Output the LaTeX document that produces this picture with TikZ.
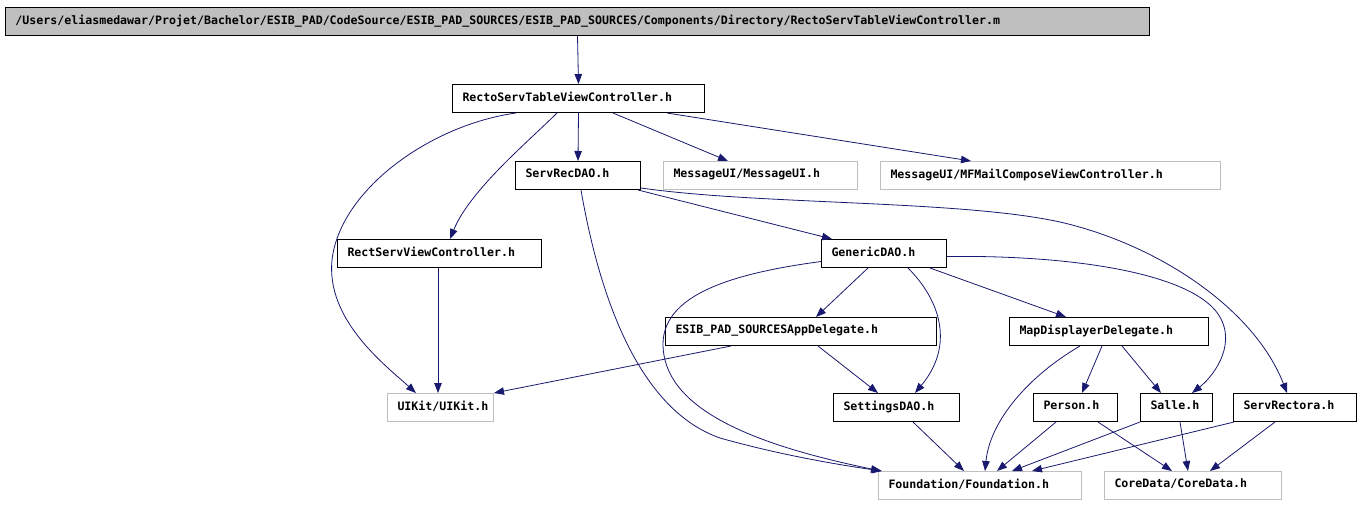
\documentclass[tikz,border=0pt]{standalone}
\usepackage{fontspec}
\setmonofont{DejaVu Sans Mono}
\usetikzlibrary{arrows.meta}
\definecolor{edgeblue}{HTML}{191970}
\definecolor{extgray}{HTML}{BFBFBF}
\newcommand\lbltxt[2]{\makebox[#1pt][l]{\rule[-4.4pt]{0pt}{13pt}#2}}
\begin{document}
\begin{tikzpicture}[x=1pt,y=-1pt,
  nbox/.style={draw=black, line width=1pt, fill=white, inner xsep=10pt, inner ysep=0pt,
    minimum height=28pt, font=\ttfamily\bfseries\fontsize{11.6}{13}\selectfont, anchor=north west},
  ext/.style={nbox, draw=extgray},
  rootbox/.style={nbox, fill=extgray},
  edge/.style={draw=edgeblue, line width=0.8pt, -{Triangle[length=10pt,width=7.5pt]}}]
\useasboundingbox (0,0) rectangle (1361,504);
\fill[white] (0,0) rectangle (1361,504);

\node[rootbox] (root) at (5,7) {\lbltxt{1124}{/Users/eliasmedawar/Projet/Bachelor/ESIB\_PAD/CodeSource/ESIB\_PAD\_SOURCES/ESIB\_PAD\_SOURCES/Components/Directory/RectoServTableViewController.m}};
\node[nbox] (rstvc) at (452,84) {\lbltxt{232}{RectoServTableViewController.h}};
\node[nbox] (srd) at (515,161) {\lbltxt{105}{ServRecDAO.h}};
\node[ext] (mui) at (663,161) {\lbltxt{174}{MessageUI/MessageUI.h}};
\node[ext] (mfm) at (880,161) {\lbltxt{320}{MessageUI/MFMailComposeViewController.h}};
\node[nbox] (rsvc) at (337,239) {\lbltxt{184}{RectServViewController.h}};
\node[nbox] (gdao) at (821,239) {\lbltxt{105}{GenericDAO.h}};
\node[nbox] (esib) at (665,317) {\lbltxt{251}{ESIB\_PAD\_SOURCESAppDelegate.h}};
\node[nbox] (map) at (1009,317) {\lbltxt{179}{MapDisplayerDelegate.h}};
\node[ext] (uikit) at (387,393) {\lbltxt{86}{UIKit/UIKit.h}};
\node[nbox] (sdao) at (833,393) {\lbltxt{106}{SettingsDAO.h}};
\node[nbox] (person) at (1033,393) {\lbltxt{64}{Person.h}};
\node[nbox] (salle) at (1140,393) {\lbltxt{52}{Salle.h}};
\node[nbox] (srect) at (1233,393) {\lbltxt{103}{ServRectora.h}};
\node[ext] (found) at (878,471) {\lbltxt{183}{Foundation/Foundation.h}};
\node[ext] (core) at (1104,471) {\lbltxt{157}{CoreData/CoreData.h}};

% edges
\draw[edge] (root.south) -- (rstvc.north);
\draw[edge] (rstvc.south) -- (srd.north);
\draw[edge] ([xshift=161pt]rstvc.south west) -- ([xshift=65pt]mui.north west);
\draw[edge] ([xshift=215pt]rstvc.south west) -- ([xshift=91pt]mfm.north west);
\draw[edge] ([xshift=105pt]rstvc.south west) .. controls (530,140) and (470,190) .. ([xshift=113pt]rsvc.north west);
\draw[edge] ([xshift=64pt]rstvc.south west) .. controls (430,125) and (340,190) .. (332,260)
   .. controls (326,320) and (385,365) .. ([xshift=29pt]uikit.north west);
\draw[edge] ([xshift=101pt]rsvc.south west) -- ([xshift=51pt]uikit.north west);
\draw[edge] ([xshift=123pt]srd.south west) -- ([xshift=11pt]gdao.north west);
\draw[edge] ([xshift=66pt]srd.south west) .. controls (600,300) and (640,410) .. (720,438)
   .. controls (780,455) and (840,465) .. ([xshift=4pt]found.north west);
\draw[edge] ([yshift=2pt]srd.south east) .. controls (760,205) and (960,200) .. (1060,222)
   .. controls (1160,245) and (1255,310) .. ([xshift=54pt]srect.north west);
\draw[edge] ([xshift=47pt]gdao.south west) -- ([xshift=151pt]esib.north west);
\draw[edge] ([xshift=87pt]gdao.south west) .. controls (940,300) and (955,345) .. ([xshift=82pt]sdao.north west);
\draw[edge] ([xshift=109pt]gdao.south west) -- ([xshift=57pt]map.north west);
\draw[edge] ([yshift=-3pt]gdao.east) .. controls (1060,255) and (1180,270) .. (1215,310)
   .. controls (1240,340) and (1215,375) .. ([xshift=52pt]salle.north west);
\draw[edge] ([yshift=-8pt]gdao.west) .. controls (720,275) and (650,300) .. (665,360)
   .. controls (680,420) and (780,450) .. ([xshift=3pt]found.north west);
\draw[edge] ([xshift=66pt]esib.south west) -- (uikit.north east);
\draw[edge] ([xshift=153pt]esib.south west) -- ([xshift=45pt]sdao.north west);
\draw[edge] ([xshift=93pt]map.south west) -- ([xshift=49pt]person.north west);
\draw[edge] ([xshift=113pt]map.south west) -- ([xshift=21pt]salle.north west);
\draw[edge] ([xshift=71pt]map.south west) .. controls (1030,375) and (990,420) .. ([xshift=107pt]found.north west);
\draw[edge] ([xshift=80pt]sdao.south west) -- ([xshift=86pt]found.north west);
\draw[edge] ([xshift=23pt]person.south west) -- ([xshift=119pt]found.north west);
\draw[edge] ([xshift=65pt]person.south west) -- ([xshift=68pt]core.north west);
\draw[edge] (salle.south west) -- ([xshift=134pt]found.north west);
\draw[edge] ([xshift=40pt]salle.south west) -- ([xshift=84pt]core.north west);
\draw[edge] ([xshift=1pt]srect.south west) -- ([xshift=154pt]found.north west);
\draw[edge] ([xshift=42pt]srect.south west) -- ([xshift=106pt]core.north west);
\end{tikzpicture}
\end{document}
